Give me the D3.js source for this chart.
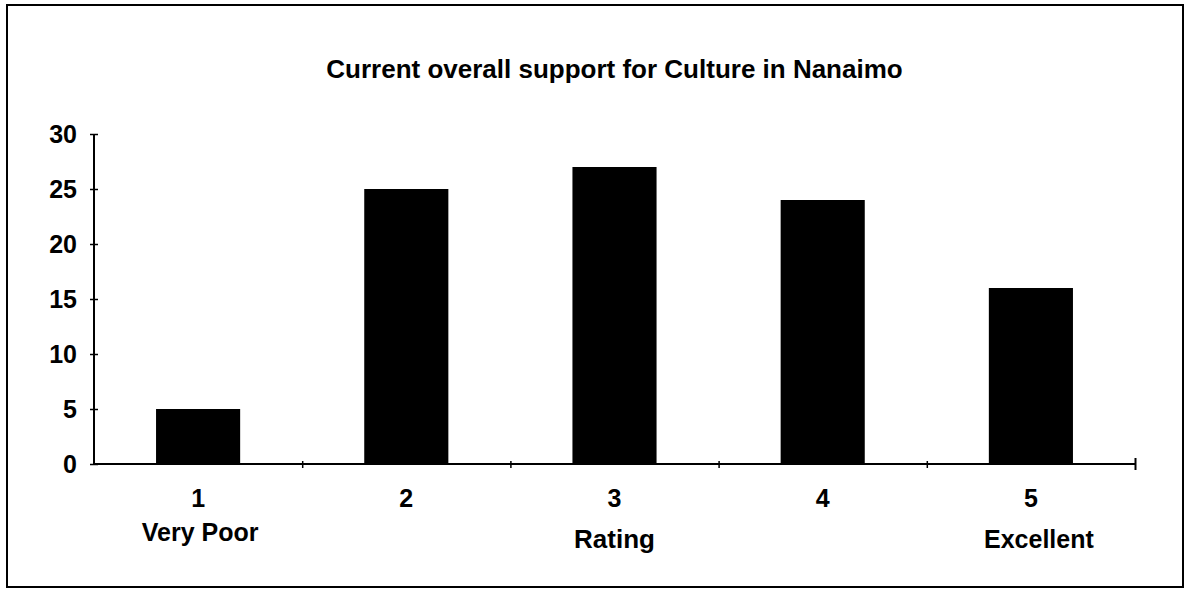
<!DOCTYPE html>
<meta charset="utf-8">
<style>
    body { margin: 0; background: #fff; }
    text { font-family: "Liberation Sans", Arial, sans-serif; font-weight: bold; fill: #000; }
</style>
<body>
<script src="https://cdn.jsdelivr.net/npm/d3@7"></script>
<script>

var ratings = ["1", "2", "3", "4", "5"];
var counts = [5, 25, 27, 24, 16];
var ratingNames = ["Very Poor", "", "", "", "Excellent"];
var yTicks = [0, 5, 10, 15, 20, 25, 30];
var title = "Current overall support for Culture in Nanaimo";
var xTitle = "Rating";

var width = 1188, height = 589;
var margin = {top: 134, right: 53, bottom: 125, left: 94};

var svg = d3.select("body").append("svg")
    .attr("width", width)
    .attr("height", height);

// outer frame
svg.append("rect")
    .attr("x", 7).attr("y", 5)
    .attr("width", 1176).attr("height", 582)
    .attr("fill", "none")
    .attr("stroke", "#000")
    .attr("stroke-width", 2);

var x = d3.scaleBand()
    .domain(ratings)
    .range([margin.left, width - margin.right])
    .paddingInner(0.596)
    .paddingOuter(0.298);

var y = d3.scaleLinear()
    .domain([0, 30])
    .range([height - margin.bottom, margin.top]);

// bars
svg.append("g")
    .selectAll("rect")
    .data(counts)
    .enter()
    .append("rect")
    .attr("x", function(d, i) { return x(ratings[i]); })
    .attr("y", function(d) { return y(d); })
    .attr("width", x.bandwidth())
    .attr("height", function(d) { return y(0) - y(d); })
    .attr("fill", "#000");

// y axis
var yAxis = svg.append("g")
    .attr("transform", "translate(" + margin.left + ",0)")
    .call(d3.axisLeft(y).tickValues(yTicks).tickSize(8).tickPadding(12));
yAxis.select(".domain").attr("stroke", "#000").attr("stroke-width", 2).attr("d", "M0," + y(30) + "V" + y(0));
yAxis.selectAll(".tick line").attr("x1", -4).attr("x2", 4).attr("stroke-width", 1.5);
yAxis.selectAll(".tick text")
    .attr("x", -17)
    .style("font-size", "25px")
    .style("font-family", "'Liberation Sans', Arial, sans-serif")
    .style("font-weight", "bold");

// x axis: ticks at band boundaries
var xEdge = d3.scaleLinear()
    .domain([0, ratings.length])
    .range([margin.left, width - margin.right]);
var xAxis = svg.append("g")
    .attr("transform", "translate(0," + y(0) + ")")
    .call(d3.axisBottom(xEdge).ticks(ratings.length).tickSize(6).tickFormat(""));
xAxis.select(".domain").attr("stroke", "#000").attr("stroke-width", 2).attr("d", "M" + xEdge(0) + ",0H" + xEdge(ratings.length));
xAxis.selectAll(".tick line").attr("y1", -3).attr("y2", 4).attr("stroke-width", 1.5);
xAxis.selectAll(".tick").filter(function(d) { return d === 0; }).remove();
xAxis.selectAll(".tick").filter(function(d) { return d === ratings.length; })
    .select("line").attr("y1", -6).attr("y2", 6).attr("stroke-width", 2);

// category labels
var labels = svg.append("g");
labels.selectAll("text.num")
    .data(ratings)
    .enter()
    .append("text")
    .attr("class", "num")
    .attr("x", function(d) { return x(d) + x.bandwidth() / 2; })
    .attr("y", 507)
    .attr("text-anchor", "middle")
    .style("font-size", "25px")
    .text(function(d) { return d; });

labels.selectAll("text.name")
    .data(ratingNames)
    .enter()
    .append("text")
    .attr("class", "name")
    .attr("x", function(d, i) { return x(ratings[i]) + x.bandwidth() / 2 + (i === 0 ? 2 : 8); })
    .attr("y", function(d, i) { return i === 0 ? 541 : 548; })
    .attr("text-anchor", "middle")
    .style("font-size", "25px")
    .text(function(d) { return d; });

// axis title
svg.append("text")
    .attr("x", (margin.left + width - margin.right) / 2)
    .attr("y", 548)
    .attr("text-anchor", "middle")
    .style("font-size", "26px")
    .text(xTitle);

// chart title
svg.append("text")
    .attr("x", (margin.left + width - margin.right) / 2)
    .attr("y", 78)
    .attr("text-anchor", "middle")
    .style("font-size", "26px")
    .text(title);

</script>
</body>
